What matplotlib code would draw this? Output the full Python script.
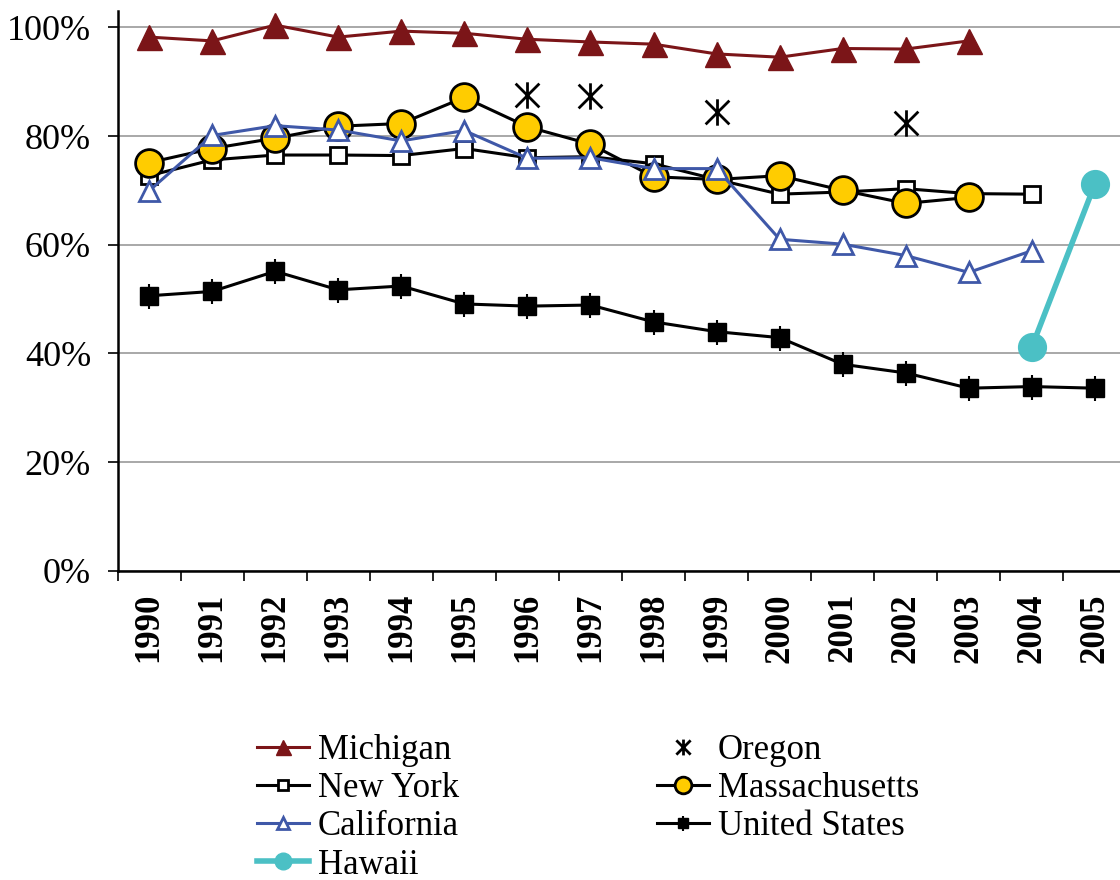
import numpy as np
import matplotlib
matplotlib.use("Agg")
import matplotlib.pyplot as plt
from matplotlib.path import Path
from matplotlib.legend_handler import HandlerTuple

plt.rcParams['font.family'] = ['Liberation Serif', 'DejaVu Serif']

years = [str(y) for y in range(1990, 2006)]
nan = np.nan

michigan = [98.2, 97.5, 100.4, 98.2, 99.3, 98.9, 97.8, 97.3, 96.9, 95.1, 94.5, 96.1, 96.0, 97.5, nan, nan]
oregon = [nan, nan, nan, nan, nan, nan, 87.6, 87.3, nan, 84.5, nan, nan, 82.4, nan, nan, nan]
new_york = [72.7, 75.6, 76.5, 76.5, 76.4, 77.7, 76.0, 76.2, 74.9, 72.0, 69.3, 69.7, 70.3, 69.4, 69.3, nan]
massachusetts = [75.1, 77.7, 79.6, 81.8, 82.3, 87.1, 81.7, 78.5, 72.5, 72.0, 72.7, 70.0, 67.6, 68.7, nan, nan]
california = [69.9, 80.1, 81.9, 81.1, 79.1, 81.0, 75.9, 76.0, 74.0, 74.0, 61.0, 60.1, 58.0, 54.9, 58.9, nan]
united_states = [50.6, 51.4, 55.1, 51.7, 52.4, 49.1, 48.7, 48.9, 45.8, 44.0, 42.9, 38.0, 36.4, 33.6, 33.9, 33.6]
hawaii = [nan] * 14 + [41.2, 71.2]

x = np.arange(len(years))

# asterisk without the horizontal bar
ast = Path([(0, -1), (0, 1), (-0.9, -0.9), (0.9, 0.9), (-0.9, 0.9), (0.9, -0.9)],
           [Path.MOVETO, Path.LINETO, Path.MOVETO, Path.LINETO, Path.MOVETO, Path.LINETO])

fig = plt.figure(figsize=(11.2, 8.8), dpi=100)
ax = fig.add_axes([117.5 / 1120, 1 - 570.8 / 880, 1009 / 1120, (570.8 - 11) / 880])

h_mi, = ax.plot(x, michigan, color='#7B1518', lw=2.2, marker='^', ms=18, mfc='#7B1518', mec='#7B1518', label='Michigan')
h_ny, = ax.plot(x, new_york, color='black', lw=2.2, marker='s', ms=12, mfc='white', mec='black', mew=2, label='New York')
h_ma, = ax.plot(x, massachusetts, color='black', lw=2.2, marker='o', ms=20, mfc='#FFCC00', mec='black', mew=2, label='Massachusetts')
h_ca, = ax.plot(x, california, color='#3F58A8', lw=2.2, marker='^', ms=15, mfc='white', mec='#3F58A8', mew=2, label='California')
h_us, = ax.plot(x, united_states, color='black', lw=2.2, marker='s', ms=13, mfc='black', mec='black', label='United States')
h_us2, = ax.plot(x, united_states, ls='none', marker='|', ms=18, mec='black', mew=1.5)
h_or, = ax.plot(x, oregon, ls='none', marker=ast, ms=19, mec='black', mew=2, label='Oregon')
h_hi, = ax.plot(x, hawaii, color='#4BC0C5', lw=4, marker='o', ms=20, mfc='#4BC0C5', mec='#4BC0C5', label='Hawaii')

ax.set_xlim(-0.5, 15.5)
ax.set_ylim(0, 103)
ax.set_yticks(np.arange(0, 101, 20))
ax.set_yticklabels([f'{v}%' for v in range(0, 101, 20)], fontsize=26)
ax.yaxis.grid(True, color='#999999', lw=1.2)
ax.set_axisbelow(True)

ax.set_xticks(x)
ax.set_xticklabels(years, rotation=90, fontsize=25, fontweight='bold')
ax.set_xticks(np.arange(-0.5, 16, 1), minor=True)
ax.tick_params(axis='x', which='major', length=0, pad=16)
ax.tick_params(axis='x', which='minor', length=7, width=1.2, direction='out')
ax.tick_params(axis='y', length=7, width=1.2, pad=12)

for s in ['top', 'right']:
    ax.spines[s].set_visible(False)
for s in ['left', 'bottom']:
    ax.spines[s].set_linewidth(1.8)

handles = [h_mi, h_ny, h_ca, h_hi, h_or, h_ma, (h_us, h_us2)]
labels = ['Michigan', 'New York', 'California', 'Hawaii', 'Oregon', 'Massachusetts', 'United States']
fig.legend(handles, labels, loc='upper left', bbox_to_anchor=(257 / 1120, 1 - 734 / 880),
           ncol=2, frameon=False, fontsize=25, markerscale=0.6, handlelength=1.5,
           handletextpad=0.25, labelspacing=0.15, columnspacing=5.7, borderpad=0, borderaxespad=0,
           handler_map={tuple: HandlerTuple(ndivide=1, pad=0)})

fig.savefig('out.png', dpi=100)
